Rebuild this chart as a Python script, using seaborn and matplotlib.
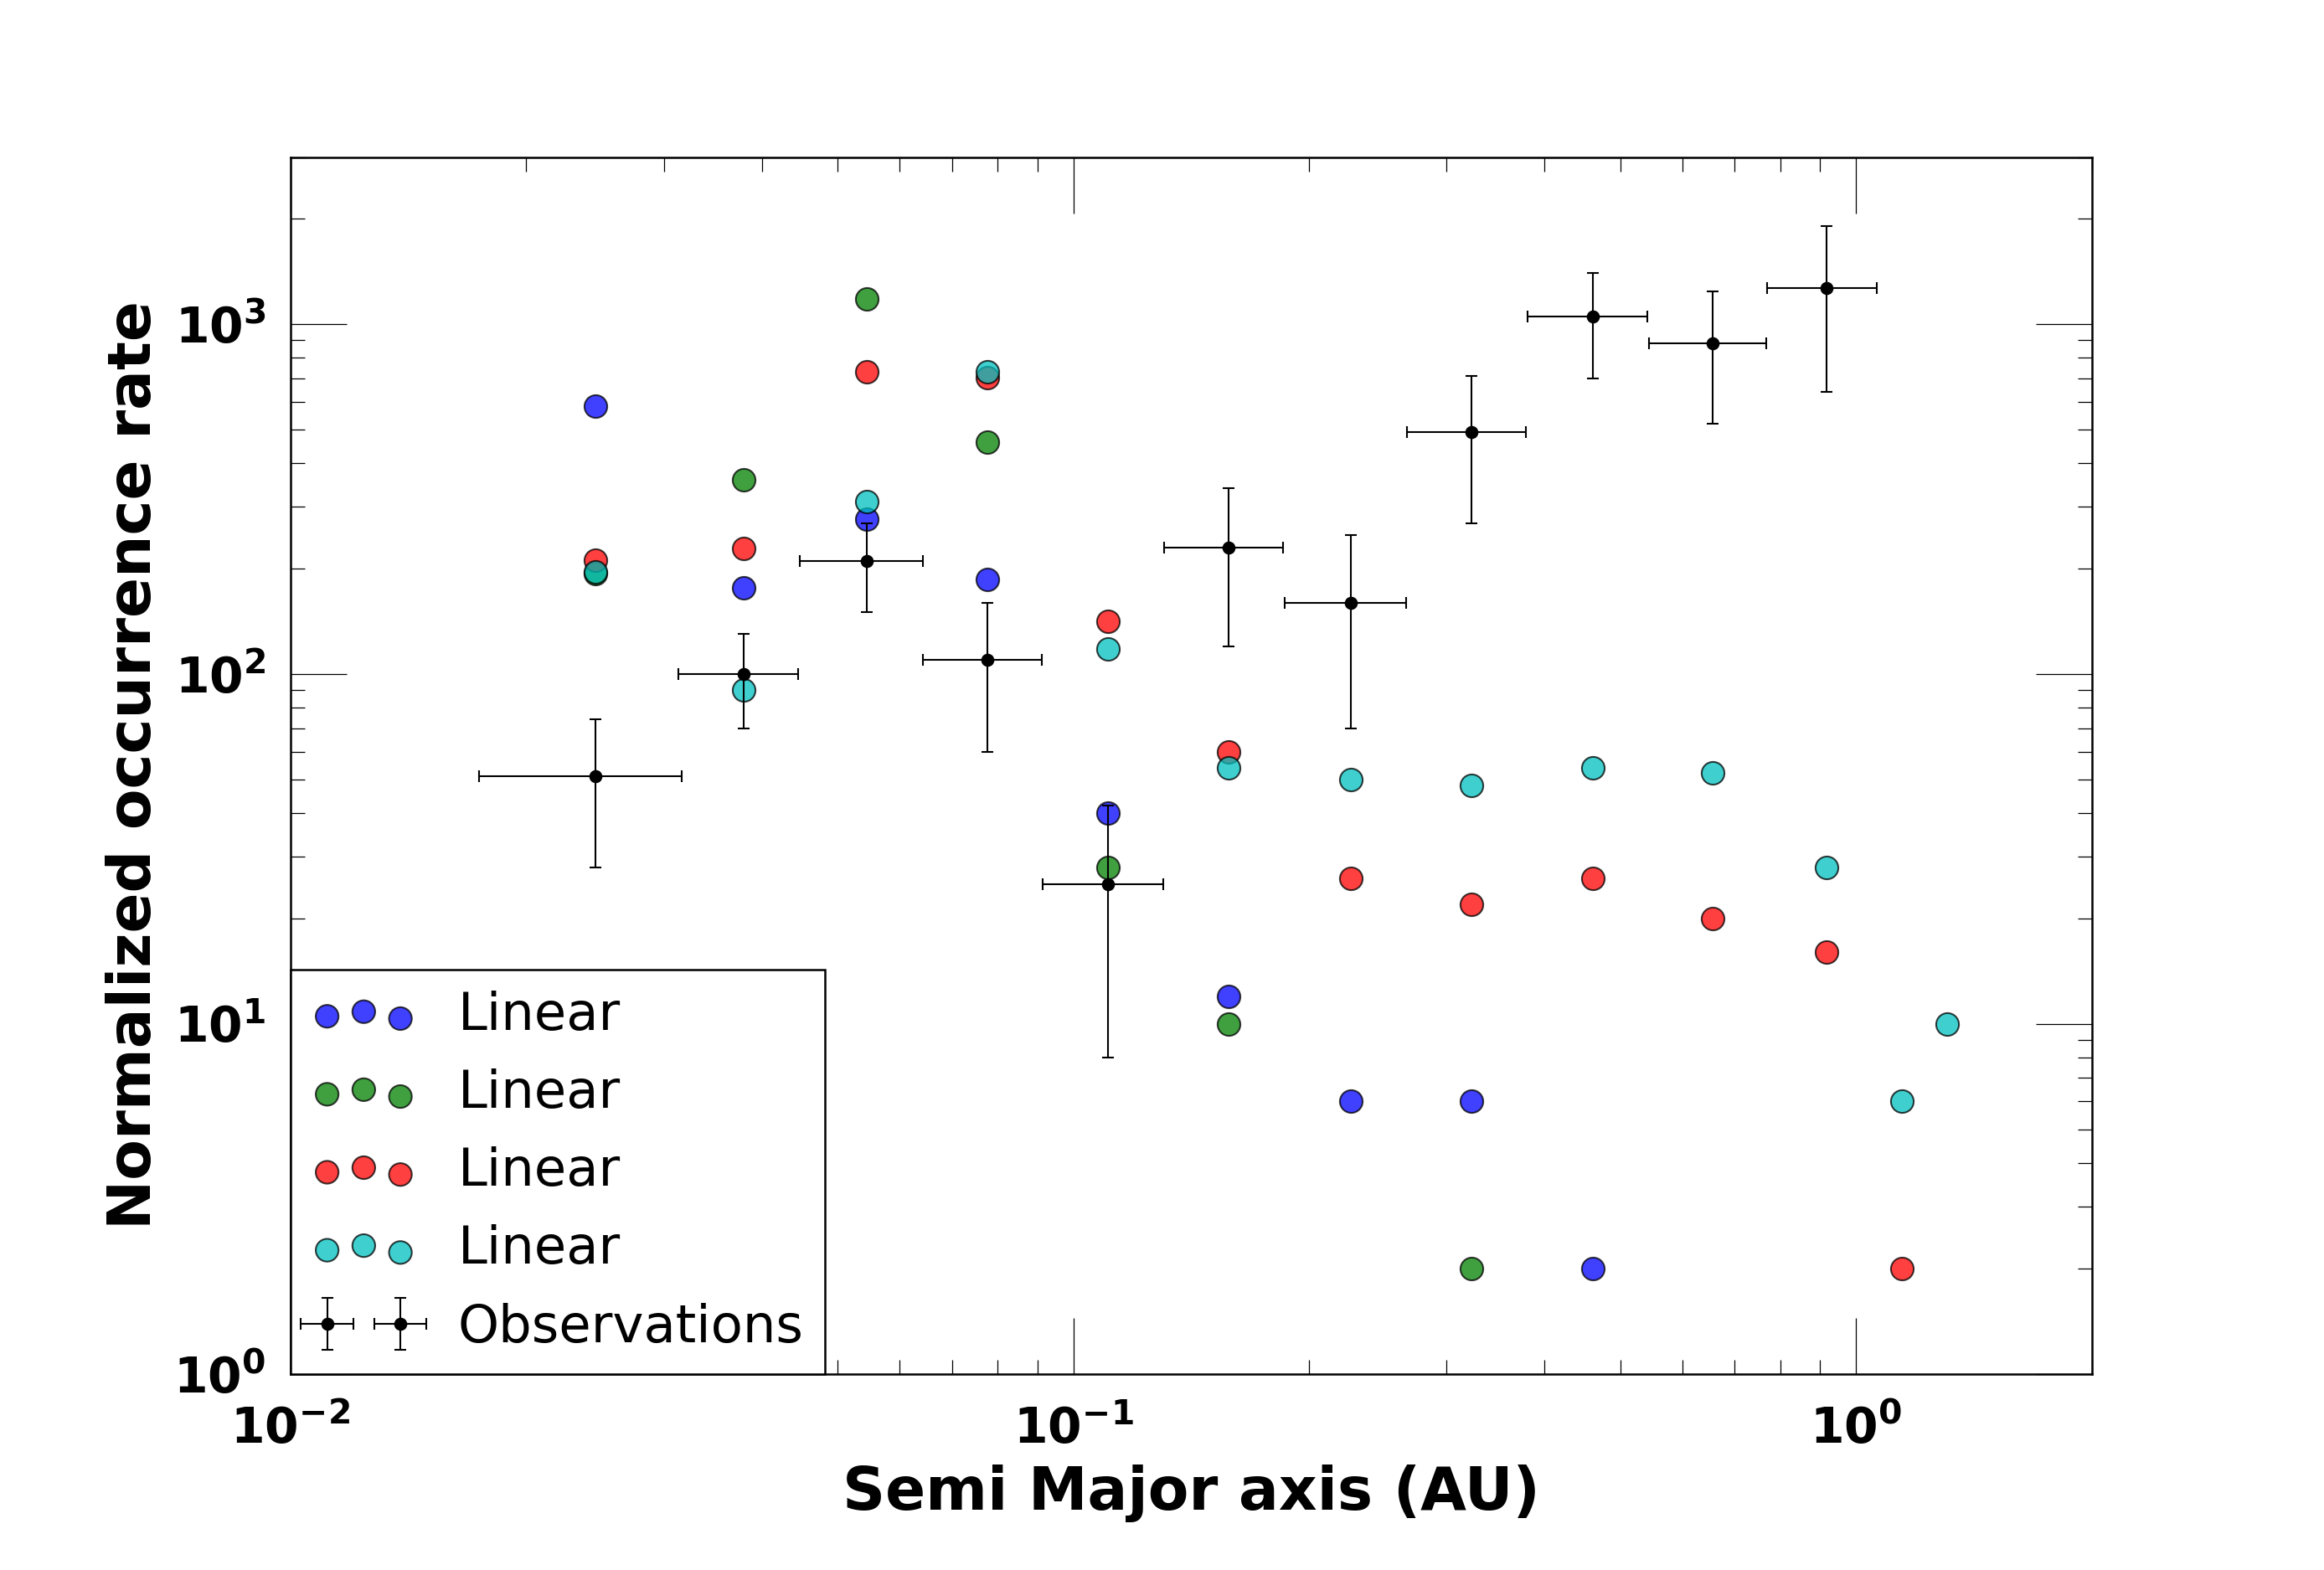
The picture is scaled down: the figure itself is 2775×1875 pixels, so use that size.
import matplotlib
matplotlib.use('Agg')
import matplotlib.pyplot as plt
import matplotlib.ticker as mticker
import numpy as np
import pandas as pd
import seaborn as sns

# Model curves (four "Linear" runs), semi major axis in AU
a_blue = [0.0245, 0.0379, 0.0545, 0.0777, 0.1108, 0.158, 0.2263, 0.323, 0.461]
rate_blue = [582, 176, 277, 186, 40, 12, 6, 6, 2]

a_green = [0.0245, 0.0379, 0.0545, 0.0777, 0.1108, 0.158, 0.323]
rate_green = [193, 358, 1182, 459, 28, 10, 2]

a_red = [0.0245, 0.0379, 0.0545, 0.0777, 0.1108, 0.158, 0.2263, 0.323, 0.461, 0.656, 0.917, 1.144]
rate_red = [211, 228, 731, 704, 141, 60, 26, 22, 26, 20, 16, 2]

a_cyan = [0.0245, 0.0379, 0.0545, 0.0777, 0.1108, 0.158, 0.2263, 0.323, 0.461, 0.656, 0.917, 1.144, 1.307]
rate_cyan = [196, 90, 311, 731, 118, 54, 50, 48, 54, 52, 28, 6, 10]

# Observations with errors
a_obs = [0.0245, 0.0379, 0.0545, 0.0777, 0.1108, 0.158, 0.2263, 0.323, 0.461, 0.656, 0.917]
a_obs_err = [0.0071, 0.0066, 0.0098, 0.0134, 0.0194, 0.0274, 0.040, 0.056, 0.080, 0.112, 0.147]
rate_obs = [51, 100, 210, 110, 25, 230, 160, 490, 1050, 880, 1270]
rate_obs_err = [23, 30, 60, 50, 17, 110, 90, 220, 350, 360, 630]

series = [
    (a_blue, rate_blue, '#0000ff'),
    (a_green, rate_green, '#008000'),
    (a_red, rate_red, '#ff0000'),
    (a_cyan, rate_cyan, '#00bfbf'),
]

sns.set_style('ticks')
plt.rcParams.update({
    'font.family': ['DejaVu Sans'],
    'text.color': 'black',
    'axes.labelcolor': 'black',
    'xtick.color': 'black',
    'ytick.color': 'black',
    'xtick.direction': 'in',
    'ytick.direction': 'in',
    'xtick.top': True,
    'ytick.right': True,
    'xtick.major.size': 32,
    'ytick.major.size': 32,
    'xtick.minor.size': 8,
    'ytick.minor.size': 8,
    'xtick.major.width': 0.6,
    'ytick.major.width': 0.6,
    'xtick.minor.width': 0.6,
    'ytick.minor.width': 0.6,
    'xtick.major.pad': 18,
    'ytick.major.pad': 14,
    'axes.linewidth': 1.2,
    'axes.edgecolor': 'black',
})

fig, ax = plt.subplots(figsize=(18.5, 12.5), dpi=150)
fig.subplots_adjust(left=0.125, right=0.9, bottom=0.125, top=0.9)

for a, r, col in series:
    df = pd.DataFrame({'a': a, 'rate': r})
    sns.scatterplot(data=df, x='a', y='rate', color=col, alpha=0.75, s=170,
                    edgecolor='black', linewidth=1.0, label='Linear', ax=ax)

ax.errorbar(a_obs, rate_obs, xerr=a_obs_err, yerr=rate_obs_err, fmt='o',
            color='black', markersize=6.5, elinewidth=1.0, capsize=3.5,
            capthick=1.0, label='Observations')

ax.set_xscale('log')
ax.set_yscale('log')
ax.set_xlim(0.01, 2)
ax.set_ylim(1, 3000)

fmt = mticker.FuncFormatter(lambda v, p: r'$\mathbf{10^{%d}}$' % int(round(np.log10(v))))
ax.xaxis.set_major_formatter(fmt)
ax.yaxis.set_major_formatter(fmt)
ax.xaxis.set_minor_formatter(mticker.NullFormatter())
ax.yaxis.set_minor_formatter(mticker.NullFormatter())
ax.tick_params(axis='both', which='major', labelsize=28)

ax.set_xlabel('Semi Major axis (AU)', fontsize=34, fontweight='bold', labelpad=6)
ax.set_ylabel('Normalized occurrence rate', fontsize=34, fontweight='bold', labelpad=6)

leg = ax.legend(loc='lower left', scatterpoints=3,
                scatteryoffsets=[0.375, 0.5, 0.3125], numpoints=2,
                borderaxespad=0, fancybox=False, framealpha=1,
                edgecolor='black', handlelength=2.0, labelspacing=0.53,
                prop={'size': 30})
leg.get_frame().set_linewidth(1.2)

fig.savefig('out.png', dpi=150)
